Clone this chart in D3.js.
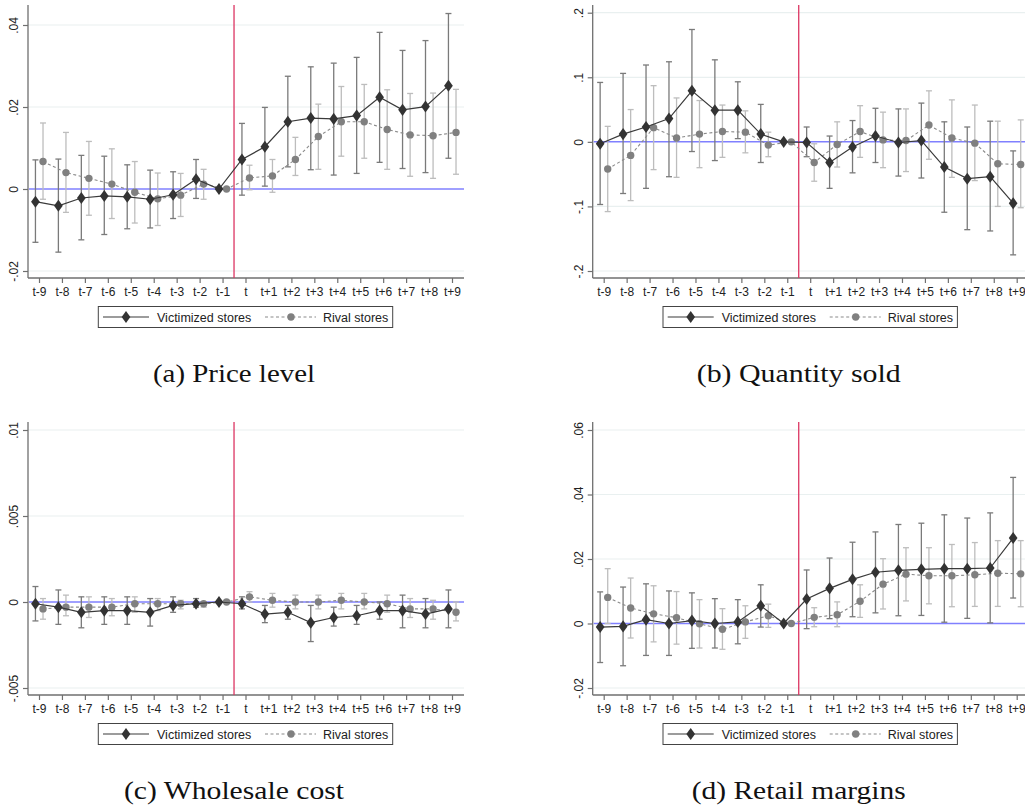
<!DOCTYPE html>
<html>
<head>
<meta charset="utf-8">
<script src="https://cdn.jsdelivr.net/npm/d3@7"></script>
<style>
  html, body { margin: 0; padding: 0; background: #fff; }
  svg { display: block; }
</style>
</head>
<body>
<svg id="chart" width="1025" height="807"></svg>
<script>
// ---------------- DATA ----------------
const periodLabels = ["t-9","t-8","t-7","t-6","t-5","t-4","t-3","t-2","t-1","t","t+1","t+2","t+3","t+4","t+5","t+6","t+7","t+8","t+9"];
const periodIndex = [-9,-8,-7,-6,-5,-4,-3,-2,-1,0,1,2,3,4,5,6,7,8,9];

// (a) Price level
const priceVictim   = [-0.0031,-0.0041,-0.0022,-0.0017,-0.0019,-0.0025,-0.0014,0.0024,0,0.0072,0.0103,0.0164,0.0173,0.0171,0.0179,0.0224,0.0193,0.0201,0.0252];
const priceVictimLo = [-0.0130,-0.0154,-0.0124,-0.0111,-0.0097,-0.0095,-0.0072,-0.0023,0,-0.0015,0.0007,0.0054,0.0047,0.0034,0.0038,0.0065,0.0050,0.0040,0.0075];
const priceVictimHi = [0.0071,0.0073,0.0082,0.0080,0.0059,0.0046,0.0042,0.0072,0,0.0160,0.0199,0.0275,0.0298,0.0307,0.0321,0.0382,0.0338,0.0362,0.0428];
const priceRival    = [0.0067,0.0040,0.0026,0.0012,-0.0008,-0.0024,-0.0015,0.0012,0,0.0027,0.0032,0.0072,0.0128,0.0164,0.0164,0.0145,0.0132,0.0130,0.0138];
const priceRivalLo  = [-0.0025,-0.0057,-0.0064,-0.0072,-0.0083,-0.0089,-0.0067,-0.0025,0,-0.0002,-0.0008,0.0033,0.0048,0.0080,0.0075,0.0048,0.0031,0.0026,0.0036];
const priceRivalHi  = [0.0161,0.0138,0.0116,0.0098,0.0067,0.0039,0.0038,0.0048,0,0.0058,0.0072,0.0126,0.0207,0.0250,0.0255,0.0242,0.0233,0.0234,0.0243];

// (b) Quantity sold
const qtyVictim   = [-0.003,0.012,0.023,0.036,0.079,0.049,0.049,0.012,0,-0.001,-0.032,-0.008,0.009,-0.001,0.002,-0.039,-0.057,-0.054,-0.095];
const qtyVictimLo = [-0.097,-0.080,-0.072,-0.054,-0.015,-0.029,0.005,-0.032,0,-0.023,-0.072,-0.048,-0.032,-0.053,-0.056,-0.109,-0.136,-0.138,-0.175];
const qtyVictimHi = [0.092,0.106,0.119,0.124,0.174,0.127,0.093,0.058,0,0.023,0.009,0.033,0.052,0.051,0.060,0.031,0.023,0.032,-0.014];
const qtyRival    = [-0.042,-0.021,0.022,0.006,0.012,0.016,0.015,-0.005,0,-0.032,-0.004,0.016,0.003,0.002,0.026,0.006,-0.002,-0.034,-0.035];
const qtyRivalLo  = [-0.108,-0.091,-0.043,-0.055,-0.040,-0.024,-0.017,-0.023,0,-0.061,-0.039,-0.024,-0.040,-0.046,-0.027,-0.055,-0.060,-0.100,-0.102];
const qtyRivalHi  = [0.024,0.050,0.087,0.068,0.064,0.057,0.048,0.015,0,-0.003,0.031,0.056,0.046,0.051,0.079,0.065,0.057,0.032,0.034];

// (c) Wholesale cost
const costVictim   = [-0.0001,-0.0003,-0.0006,-0.0005,-0.0005,-0.0006,-0.0002,-0.0001,0,-0.0001,-0.0007,-0.0006,-0.0012,-0.0009,-0.0008,-0.0005,-0.0005,-0.0007,-0.0004];
const costVictimLo = [-0.0011,-0.0013,-0.0015,-0.0013,-0.0013,-0.0014,-0.0006,-0.0003,0,-0.0004,-0.0012,-0.0010,-0.0023,-0.0014,-0.0013,-0.0010,-0.0015,-0.0015,-0.0015];
const costVictimHi = [0.0009,0.0007,0.0003,0.0003,0.0003,0.0002,0.0003,0.0002,0,0.0003,-0.0002,-0.0002,-0.0002,-0.0003,-0.0002,0.0000,0.0004,0.0002,0.0007];
const costRival    = [-0.0004,-0.0003,-0.0003,-0.0003,-0.0001,-0.0001,-0.0001,-0.0001,0,0.0003,0.0001,0.0000,0.0000,0.0001,0.0000,-0.0001,-0.0004,-0.0004,-0.0006];
const costRivalLo  = [-0.0010,-0.0008,-0.0009,-0.0008,-0.0006,-0.0005,-0.0004,-0.0003,0,0.0000,-0.0003,-0.0004,-0.0004,-0.0004,-0.0004,-0.0006,-0.0009,-0.0010,-0.0011];
const costRivalHi  = [0.0002,0.0004,0.0003,0.0002,0.0003,0.0002,0.0001,0.0000,0,0.0006,0.0005,0.0004,0.0004,0.0005,0.0005,0.0004,0.0002,0.0001,0.0000];

// (d) Retail margins
const marginVictim   = [-0.0011,-0.0009,0.0012,0.0000,0.0009,0.0000,0.0005,0.0055,0,0.0076,0.0109,0.0137,0.0159,0.0165,0.0168,0.0170,0.0170,0.0172,0.0265];
const marginVictimLo = [-0.0121,-0.0131,-0.0099,-0.0099,-0.0077,-0.0076,-0.0063,-0.0011,0,-0.0016,0.0015,0.0021,0.0033,0.0024,0.0025,0.0004,0.0016,0.0002,0.0079];
const marginVictimHi = [0.0098,0.0113,0.0123,0.0101,0.0095,0.0077,0.0074,0.0120,0,0.0166,0.0203,0.0252,0.0284,0.0307,0.0311,0.0337,0.0327,0.0343,0.0453];
const marginRival    = [0.0081,0.0048,0.0030,0.0018,-0.0001,-0.0018,0.0005,0.0024,0,0.0019,0.0027,0.0069,0.0122,0.0153,0.0148,0.0148,0.0151,0.0156,0.0154];
const marginRivalLo  = [0.0000,-0.0045,-0.0057,-0.0064,-0.0076,-0.0080,-0.0046,-0.0012,0,-0.0010,-0.0010,0.0019,0.0045,0.0070,0.0061,0.0052,0.0053,0.0053,0.0052];
const marginRivalHi  = [0.0170,0.0141,0.0117,0.0099,0.0074,0.0046,0.0055,0.0060,0,0.0049,0.0067,0.0120,0.0201,0.0235,0.0235,0.0245,0.0251,0.0257,0.0257];

// axis ticks
const priceTicks  = [-0.02, 0, 0.02, 0.04];
const priceTickLabels = ["-.02", "0", ".02", ".04"];
const qtyTicks    = [-0.2, -0.1, 0, 0.1, 0.2];
const qtyTickLabels = ["-.2", "-.1", "0", ".1", ".2"];
const costTicks   = [-0.005, 0, 0.005, 0.01];
const costTickLabels = ["-.005", "0", ".005", ".01"];
const marginTicks = [-0.02, 0, 0.02, 0.04, 0.06];
const marginTickLabels = ["-.02", "0", ".02", ".04", ".06"];

const captions = ["(a) Price level", "(b) Quantity sold", "(c) Wholesale cost", "(d) Retail margins"];
const legendLabels = ["Victimized stores", "Rival stores"];

// ---------------- LAYOUT / STYLE ----------------
const panels = [
  { ox: 0,     oy: 0,   topTickPx: 25, ticks: priceTicks,  labels: priceTickLabels,
    v: priceVictim, vlo: priceVictimLo, vhi: priceVictimHi, r: priceRival, rlo: priceRivalLo, rhi: priceRivalHi, caption: captions[0], capW: 162 },
  { ox: 564.7, oy: 0,   topTickPx: 12.7, ticks: qtyTicks, labels: qtyTickLabels,
    v: qtyVictim, vlo: qtyVictimLo, vhi: qtyVictimHi, r: qtyRival, rlo: qtyRivalLo, rhi: qtyRivalHi, caption: captions[1], capW: 204 },
  { ox: 0,     oy: 417, topTickPx: 13, ticks: costTicks, labels: costTickLabels,
    v: costVictim, vlo: costVictimLo, vhi: costVictimHi, r: costRival, rlo: costRivalLo, rhi: costRivalHi, caption: captions[2], capW: 220 },
  { ox: 564.7, oy: 417, topTickPx: 13, ticks: marginTicks, labels: marginTickLabels,
    v: marginVictim, vlo: marginVictimLo, vhi: marginVictimHi, r: marginRival, rlo: marginRivalLo, rhi: marginRivalHi, caption: captions[3], capW: 214 }
];

const C = {
  axis: "#6f6f6f", grid: "#e9f0f0", zero: "#8080ff", event: "#dc3562",
  vLine: "#3a3a3a", vMark: "#333333", vCI: "#7a7a7a",
  rLine: "#8a8a8a", rMark: "#808080", rCI: "#bdbdbd", text: "#222"
};
const FONT = "'Liberation Sans', Arial, sans-serif";
const SERIF = "'Liberation Serif', 'Times New Roman', serif";

const svg = d3.select("#chart");

panels.forEach(p => {
  const g = svg.append("g").attr("transform", `translate(${p.ox},${p.oy})`);
  const left = 28, right = 464, top = 5, bottom = 278;

  const x = d3.scaleLinear().domain([-9, 9]).range([39, 452]);
  const y = d3.scaleLinear()
    .domain([p.ticks[0], p.ticks[p.ticks.length - 1]])
    .range([271, p.topTickPx]);

  // grid lines
  g.append("g").selectAll("line").data(p.ticks.filter(t => t !== 0)).join("line")
    .attr("x1", left).attr("x2", right)
    .attr("y1", d => y(d)).attr("y2", d => y(d))
    .attr("stroke", C.grid).attr("stroke-width", 1.2);

  // y axis
  const yAxis = d3.axisLeft(y).tickValues(p.ticks).tickSize(5)
    .tickFormat((d, i) => p.labels[i]);
  const ya = g.append("g").attr("transform", `translate(${left},0)`).call(yAxis);
  ya.select(".domain").remove();
  ya.selectAll(".tick line").attr("stroke", C.axis).attr("stroke-width", 1.2);
  ya.selectAll(".tick text")
    .attr("font-family", FONT).attr("font-size", 12).attr("fill", C.text)
    .attr("x", null).attr("dy", null)
    .attr("text-anchor", "middle")
    .attr("transform", "translate(-10,0) rotate(-90)");
  g.append("line").attr("x1", left).attr("x2", left).attr("y1", top).attr("y2", bottom)
    .attr("stroke", C.axis).attr("stroke-width", 1.3);

  // x axis
  const xAxis = d3.axisBottom(x).tickValues(periodIndex).tickSize(5)
    .tickFormat((d, i) => periodLabels[i]);
  const xa = g.append("g").attr("transform", `translate(0,${bottom})`).call(xAxis);
  xa.select(".domain").remove();
  xa.selectAll(".tick line").attr("stroke", C.axis).attr("stroke-width", 1.2);
  xa.selectAll(".tick text").attr("font-family", FONT).attr("font-size", 12)
    .attr("fill", C.text).attr("y", 9);
  g.append("line").attr("x1", left).attr("x2", right).attr("y1", bottom).attr("y2", bottom)
    .attr("stroke", C.axis).attr("stroke-width", 1.3);

  // zero reference line
  g.append("line").attr("x1", left + 1).attr("x2", right).attr("y1", y(0)).attr("y2", y(0))
    .attr("stroke", C.zero).attr("stroke-width", 1.5);
  // event line
  g.append("line").attr("x1", x(-0.5)).attr("x2", x(-0.5)).attr("y1", top).attr("y2", bottom)
    .attr("stroke", C.event).attr("stroke-width", 1.3);

  const vOff = -0.155, rOff = 0.175, cap = 3;
  const drawCI = (lo, hi, off, color, sw) => {
    const cg = g.append("g").attr("stroke", color).attr("stroke-width", sw).attr("fill", "none");
    periodIndex.forEach((t, i) => {
      if (lo[i] === hi[i]) return;
      const cx = x(t + off);
      cg.append("line").attr("x1", cx).attr("x2", cx).attr("y1", y(lo[i])).attr("y2", y(hi[i]));
      cg.append("line").attr("x1", cx - cap).attr("x2", cx + cap).attr("y1", y(lo[i])).attr("y2", y(lo[i]));
      cg.append("line").attr("x1", cx - cap).attr("x2", cx + cap).attr("y1", y(hi[i])).attr("y2", y(hi[i]));
    });
  };
  drawCI(p.rlo, p.rhi, rOff, C.rCI, 1.3);
  drawCI(p.vlo, p.vhi, vOff, C.vCI, 1.3);

  const line = off => d3.line().x((d, i) => x(periodIndex[i] + off)).y(d => y(d));

  // rival series
  g.append("path").datum(p.r).attr("d", line(rOff)).attr("fill", "none")
    .attr("stroke", C.rLine).attr("stroke-width", 1.1).attr("stroke-dasharray", "3,2.5");
  g.append("g").selectAll("circle").data(p.r).join("circle")
    .attr("cx", (d, i) => x(periodIndex[i] + rOff)).attr("cy", d => y(d))
    .attr("r", 3.7).attr("fill", C.rMark);

  // victimized series
  g.append("path").datum(p.v).attr("d", line(vOff)).attr("fill", "none")
    .attr("stroke", C.vLine).attr("stroke-width", 1.2);
  g.append("g").selectAll("path").data(p.v).join("path")
    .attr("d", d3.symbol().type(d3.symbolDiamond).size(42))
    .attr("transform", (d, i) => `translate(${x(periodIndex[i] + vOff)},${y(d)}) scale(1.25,1)`)
    .attr("fill", C.vMark);

  // legend
  const lg = g.append("g").attr("transform", "translate(0,306.5)");
  lg.append("rect").attr("x", 98.3).attr("y", 0).attr("width", 294.4).attr("height", 21)
    .attr("fill", "#fff").attr("stroke", "#444").attr("stroke-width", 1);
  lg.append("line").attr("x1", 103).attr("x2", 149).attr("y1", 10.5).attr("y2", 10.5)
    .attr("stroke", C.vLine).attr("stroke-width", 1.2);
  lg.append("path").attr("d", d3.symbol().type(d3.symbolDiamond).size(42))
    .attr("transform", "translate(126,10.5) scale(1.25,1)").attr("fill", C.vMark);
  lg.append("text").attr("x", 157).attr("y", 15).text(legendLabels[0])
    .attr("font-family", FONT).attr("font-size", 12.5).attr("fill", C.text);
  lg.append("line").attr("x1", 265).attr("x2", 316).attr("y1", 10.5).attr("y2", 10.5)
    .attr("stroke", C.rLine).attr("stroke-width", 1.1).attr("stroke-dasharray", "3,2.5");
  lg.append("circle").attr("cx", 291).attr("cy", 10.5).attr("r", 3.7).attr("fill", C.rMark);
  lg.append("text").attr("x", 323).attr("y", 15).text(legendLabels[1])
    .attr("font-family", FONT).attr("font-size", 12.5).attr("fill", C.text);

  // caption
  g.append("text").attr("x", 234).attr("y", 382).attr("text-anchor", "middle")
    .attr("font-family", SERIF).attr("font-size", 26).attr("fill", "#111")
    .attr("textLength", p.capW).attr("lengthAdjust", "spacingAndGlyphs")
    .text(p.caption);
});
</script>
</body>
</html>
